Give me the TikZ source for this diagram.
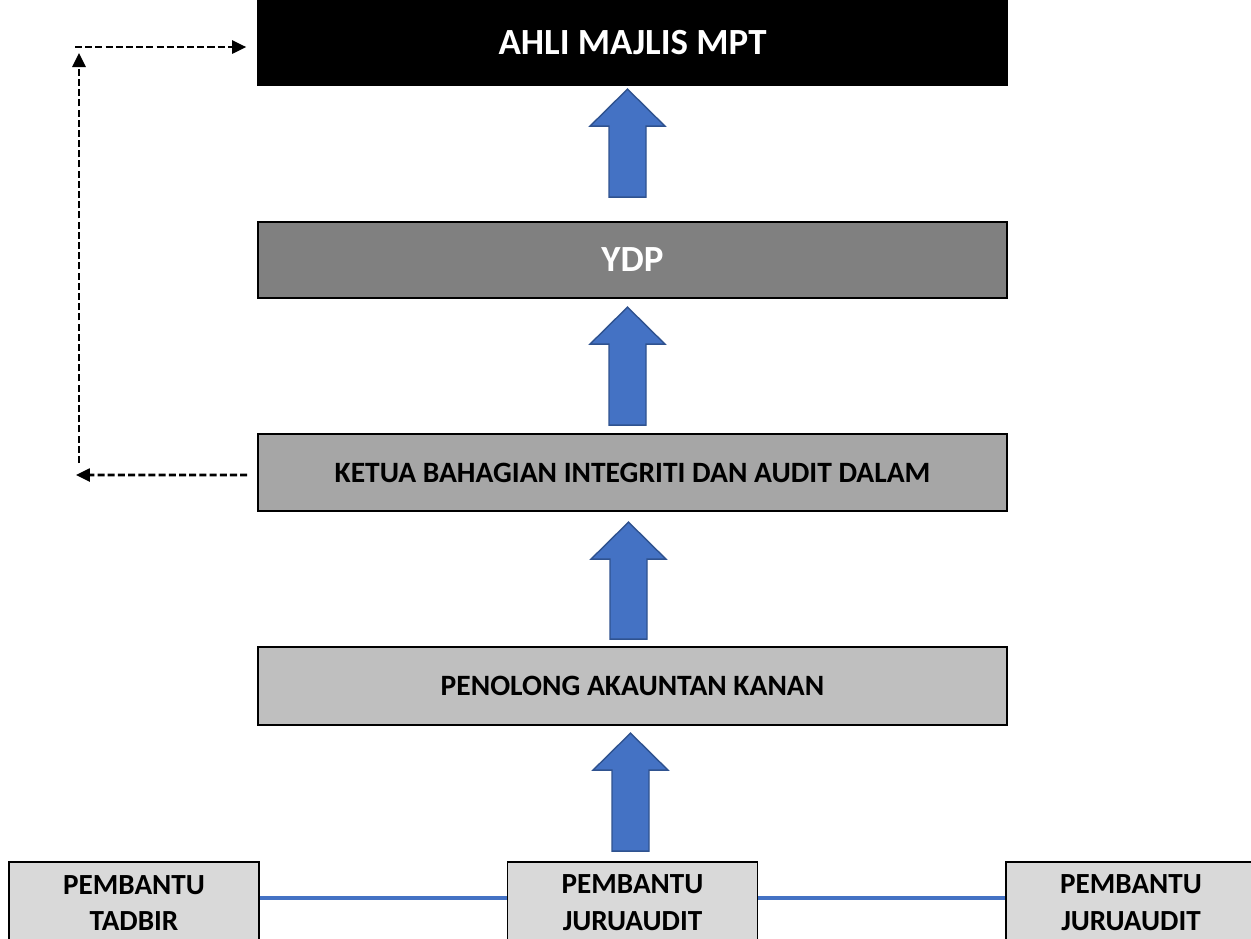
\documentclass[tikz,border=0pt]{standalone}
\usepackage{fontspec}
\setmainfont{Carlito}
\usetikzlibrary{arrows.meta,calc}

\definecolor{boxblue}{HTML}{4472C4}
\definecolor{edgeblue}{HTML}{2F528F}
\definecolor{grayA}{HTML}{808080}
\definecolor{grayB}{HTML}{A6A6A6}
\definecolor{grayC}{HTML}{BFBFBF}
\definecolor{grayD}{HTML}{D9D9D9}

% block arrow pointing up, drawn from the middle of its foot
\newcommand{\upblock}[2]{\draw[blockarrow] (#1) ++(-18.5,0) -- ++(0,-#2) -- ++(-19,0) -- ++(37.5,-37) -- ++(37.5,37) -- ++(-19,0) -- ++(0,#2) -- cycle;}

\begin{document}
\begin{tikzpicture}[x=0.02cm, y=-0.02cm,
	level/.style={rectangle, draw=black, line width=1pt, minimum width=14.98cm, inner sep=0pt, font=\bfseries\fontsize{16.8}{20}\selectfont},
	staff/.style={rectangle, draw=black, line width=1pt, fill=grayD, minimum width=5cm, minimum height=1.64cm, inner sep=0pt, align=center, font=\bfseries\fontsize{16.6}{21}\selectfont},
	blockarrow/.style={fill=boxblue, draw=edgeblue, line width=0.8pt, line join=miter},
	dashlink/.style={draw=black, line width=1.5pt, dash pattern=on 4pt off 1.8pt, -{Triangle[length=0.28cm, width=0.26cm]}},
	bluelink/.style={draw=boxblue, line width=2.2pt}]
	\useasboundingbox (0,0) rectangle (1251,938);

	\node[level, fill=black, text=white, minimum height=1.7cm, font=\bfseries\fontsize{21}{24}\selectfont] (mpt) at (632.5,42.5) {AHLI MAJLIS MPT};
	\node[level, fill=grayA, text=white, minimum height=1.52cm, font=\bfseries\fontsize{21}{24}\selectfont] (ydp) at (632.5,260) {YDP};
	\node[level, fill=grayB, minimum height=1.54cm] (ketua) at (632.5,472.5) {KETUA BAHAGIAN INTEGRITI DAN AUDIT DALAM};
	\node[level, fill=grayC, minimum height=1.56cm] (penolong) at (632.5,686) {PENOLONG AKAUNTAN KANAN};

	\node[staff] (tadbir) at (134,903) {PEMBANTU\\TADBIR};
	\node[staff] (audit-mid) at (632.5,903) {PEMBANTU\\JURUAUDIT};
	\node[staff] (audit-right) at (1131,903) {PEMBANTU\\JURUAUDIT};

	\draw[bluelink] ($(tadbir.east)+(0,-5)$) -- ($(audit-mid.west)+(0,-5)$);
	\draw[bluelink] ($(audit-mid.east)+(0,-5)$) -- ($(audit-right.west)+(0,-5)$);

	\upblock{$(ydp.north)+(-5,-24)$}{71}
	\upblock{$(ketua.north)+(-5,-8)$}{81}
	\upblock{$(penolong.north)+(-4,-7)$}{80}
	\upblock{$(audit-mid.north)+(-2,-10)$}{81}

	\coordinate (back) at (76,475);
	\coordinate (up-foot) at (79,463);
	\coordinate (up-head) at (79,53);
	\coordinate (ret) at (75,47);
	\draw[dashlink, shorten <=0.2cm] ($(ketua.west)+(0,2.5)$) -- (back);
	\draw[dashlink] (up-foot) -- (up-head);
	\draw[dashlink, shorten >=0.22cm] (ret) -- (ret -| mpt.west);
\end{tikzpicture}
\end{document}
